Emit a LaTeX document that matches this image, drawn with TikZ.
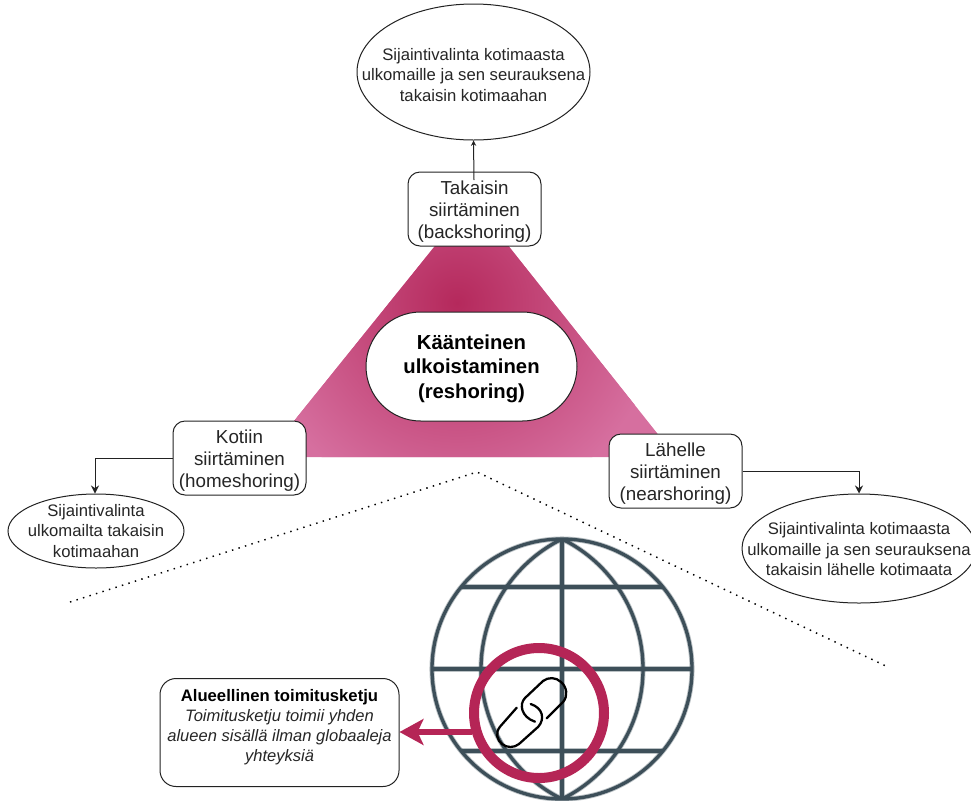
\documentclass[tikz,border=0pt]{standalone}
\usepackage{fontspec}
\setmainfont{Liberation Sans}
\usetikzlibrary{shapes.geometric,arrows.meta,calc}
\definecolor{magA}{HTML}{B5295C}
\definecolor{magB}{HTML}{D66F9F}
\definecolor{ringc}{HTML}{B52556}
\definecolor{globec}{HTML}{3D4F59}
\definecolor{edgec}{HTML}{222222}
\newcommand{\globeshape}[1]{%
  \draw[#1] (562,669) circle[radius=130];
  \begin{scope}
    \clip (562,669) circle[radius=130];
    \draw[#1] (625.8,669) circle[radius=144.8];
    \draw[#1] (498.2,669) circle[radius=144.8];
  \end{scope}
  \draw[#1] (562,539) -- (562,799);
  \draw[#1] (461,587) -- (663,587);
  \draw[#1] (432,669) -- (692,669);
  \draw[#1] (461,751) -- (663,751);
}
\tikzset{
  txtL/.style={font=\fontsize{14.1pt}{16.5pt}\selectfont,text=black!85,align=center,yshift=-1.7pt},
  txtM/.style={font=\fontsize{12.5pt}{15.4pt}\selectfont,text=black!85,align=center},
  boxn/.style={draw=edgec,line width=0.75pt,fill=white,rounded corners=9pt,minimum width=99.75pt,minimum height=55.5pt,inner sep=0pt},
  ell/.style={draw=edgec,line width=0.75pt,fill=white,ellipse,inner sep=0pt},
  conn/.style={draw=edgec,line width=0.75pt,-{Stealth[length=6pt,width=6pt]}},
  glob/.style={draw=globec,line width=2.5pt},
  globhalo/.style={draw=globec,line width=3.8pt,opacity=0.35},
  dots/.style={draw=black,line width=1.1pt,dash pattern=on 1.1pt off 4pt},
  linkp/.style={draw=black,line width=1.7pt,line cap=round}
}
\begin{document}
\begin{tikzpicture}[x=0.75pt,y=-0.75pt]
\useasboundingbox (0,0) rectangle (971,800);
% triangle
\begin{scope}
  \clip (472,200) -- (265,457) -- (676,457) -- cycle;
  \fill[magB] (200,150) rectangle (720,500);
  \shade[inner color=magA,outer color=magB] (457,303) circle[radius=205];
\end{scope}
% dotted wedge
\coordinate (dl) at (70,602);
\coordinate (dt) at (477,472);
\coordinate (dr) at (888,667);
\draw[dots] (dl) -- (dt) -- (dr);
% globe
\begin{scope}
  \clip (420,530) rectangle (705,800);
  \globeshape{globhalo}
  \globeshape{glob}
\end{scope}
% ring
\draw[draw=ringc,line width=7.5pt] (539,713) circle[radius=65];
% chain link
\draw[linkp] (546.7,718.3) -- (563.3,701.7) .. controls (568,696) and (567,687) .. (561,682) .. controls (556,677) and (548,677) .. (543,681) -- (525,698) .. controls (519,704) and (521,717) .. (535,721.7);
\draw[linkp] (516.7,707.7) -- (500,726.7) .. controls (495,733) and (497,740) .. (502,744) .. controls (507,748) and (514,748) .. (519,744) -- (538.3,726.7) .. controls (545,719) and (543,708) .. (530.7,704);
% nodes
\node[ell,minimum width=174.75pt,minimum height=102pt,label={[txtM,yshift=-2.2pt]center:{Sijaintivalinta kotimaasta\\ulkomaille ja sen seurauksena\\takaisin kotimaahan}}] (etop) at (473.5,72) {};
\node[ell,minimum width=132pt,minimum height=55.5pt,label={[txtM]center:{Sijaintivalinta\\ulkomailta takaisin\\kotimaahan}}] (eleft) at (96,531) {};
\node[ell,minimum width=175.5pt,minimum height=81.75pt,label={[txtM,yshift=-0.7pt]center:{Sijaintivalinta kotimaasta\\ulkomaille ja sen seurauksena\\takaisin lähelle kotimaata}}] (eright) at (859,548.5) {};
\node[boxn,label={[txtL]center:{Takaisin\\siirtäminen\\(backshoring)}}] (tak) at (474.5,209) {};
\node[boxn,label={[txtL]center:{Kotiin\\siirtäminen\\(homeshoring)}}] (kot) at (239.5,458) {};
\node[boxn,label={[txtL]center:{Lähelle\\siirtäminen\\(nearshoring)}}] (lah) at (675.5,471) {};
\node[draw=edgec,line width=0.75pt,fill=white,rounded corners=41pt,minimum width=158.25pt,minimum height=81.75pt,inner sep=0pt,label={[align=center,yshift=-1.5pt,font=\fontsize{15.2pt}{18.4pt}\selectfont\bfseries]center:{Käänteinen\\ulkoistaminen\\(reshoring)}}] (res) at (471.5,366.5) {};
\node[draw=edgec,line width=0.75pt,fill=white,rounded corners=12pt,minimum width=179.25pt,minimum height=81pt,inner sep=0pt,label={[align=center,yshift=4pt,text=black!85,font=\fontsize{12.4pt}{15pt}\selectfont\itshape]center:{{\fontsize{12.5pt}{15pt}\selectfont\bfseries\upshape\color{black}Alueellinen toimitusketju}\\Toimitusketju toimii yhden\\alueen sisällä ilman globaaleja\\yhteyksiä}}] (alu) at (279.5,732.5) {};
% connectors
\coordinate (takin) at (474,180);
\draw[draw=edgec,line width=0.75pt,-{Stealth[length=4pt,width=4pt]}] (takin) -- (etop.south);
\draw[conn] (kot.west) -| (eleft.north -| 95,0);
\draw[conn] (lah.east) -| (eright.north);
\coordinate (ringw) at (472,732);
\draw[draw=ringc,line width=4pt,-{Stealth[length=18pt,width=19.5pt,inset=4.5pt]}] (ringw) -- (ringw -| alu.east);
\end{tikzpicture}
\end{document}
